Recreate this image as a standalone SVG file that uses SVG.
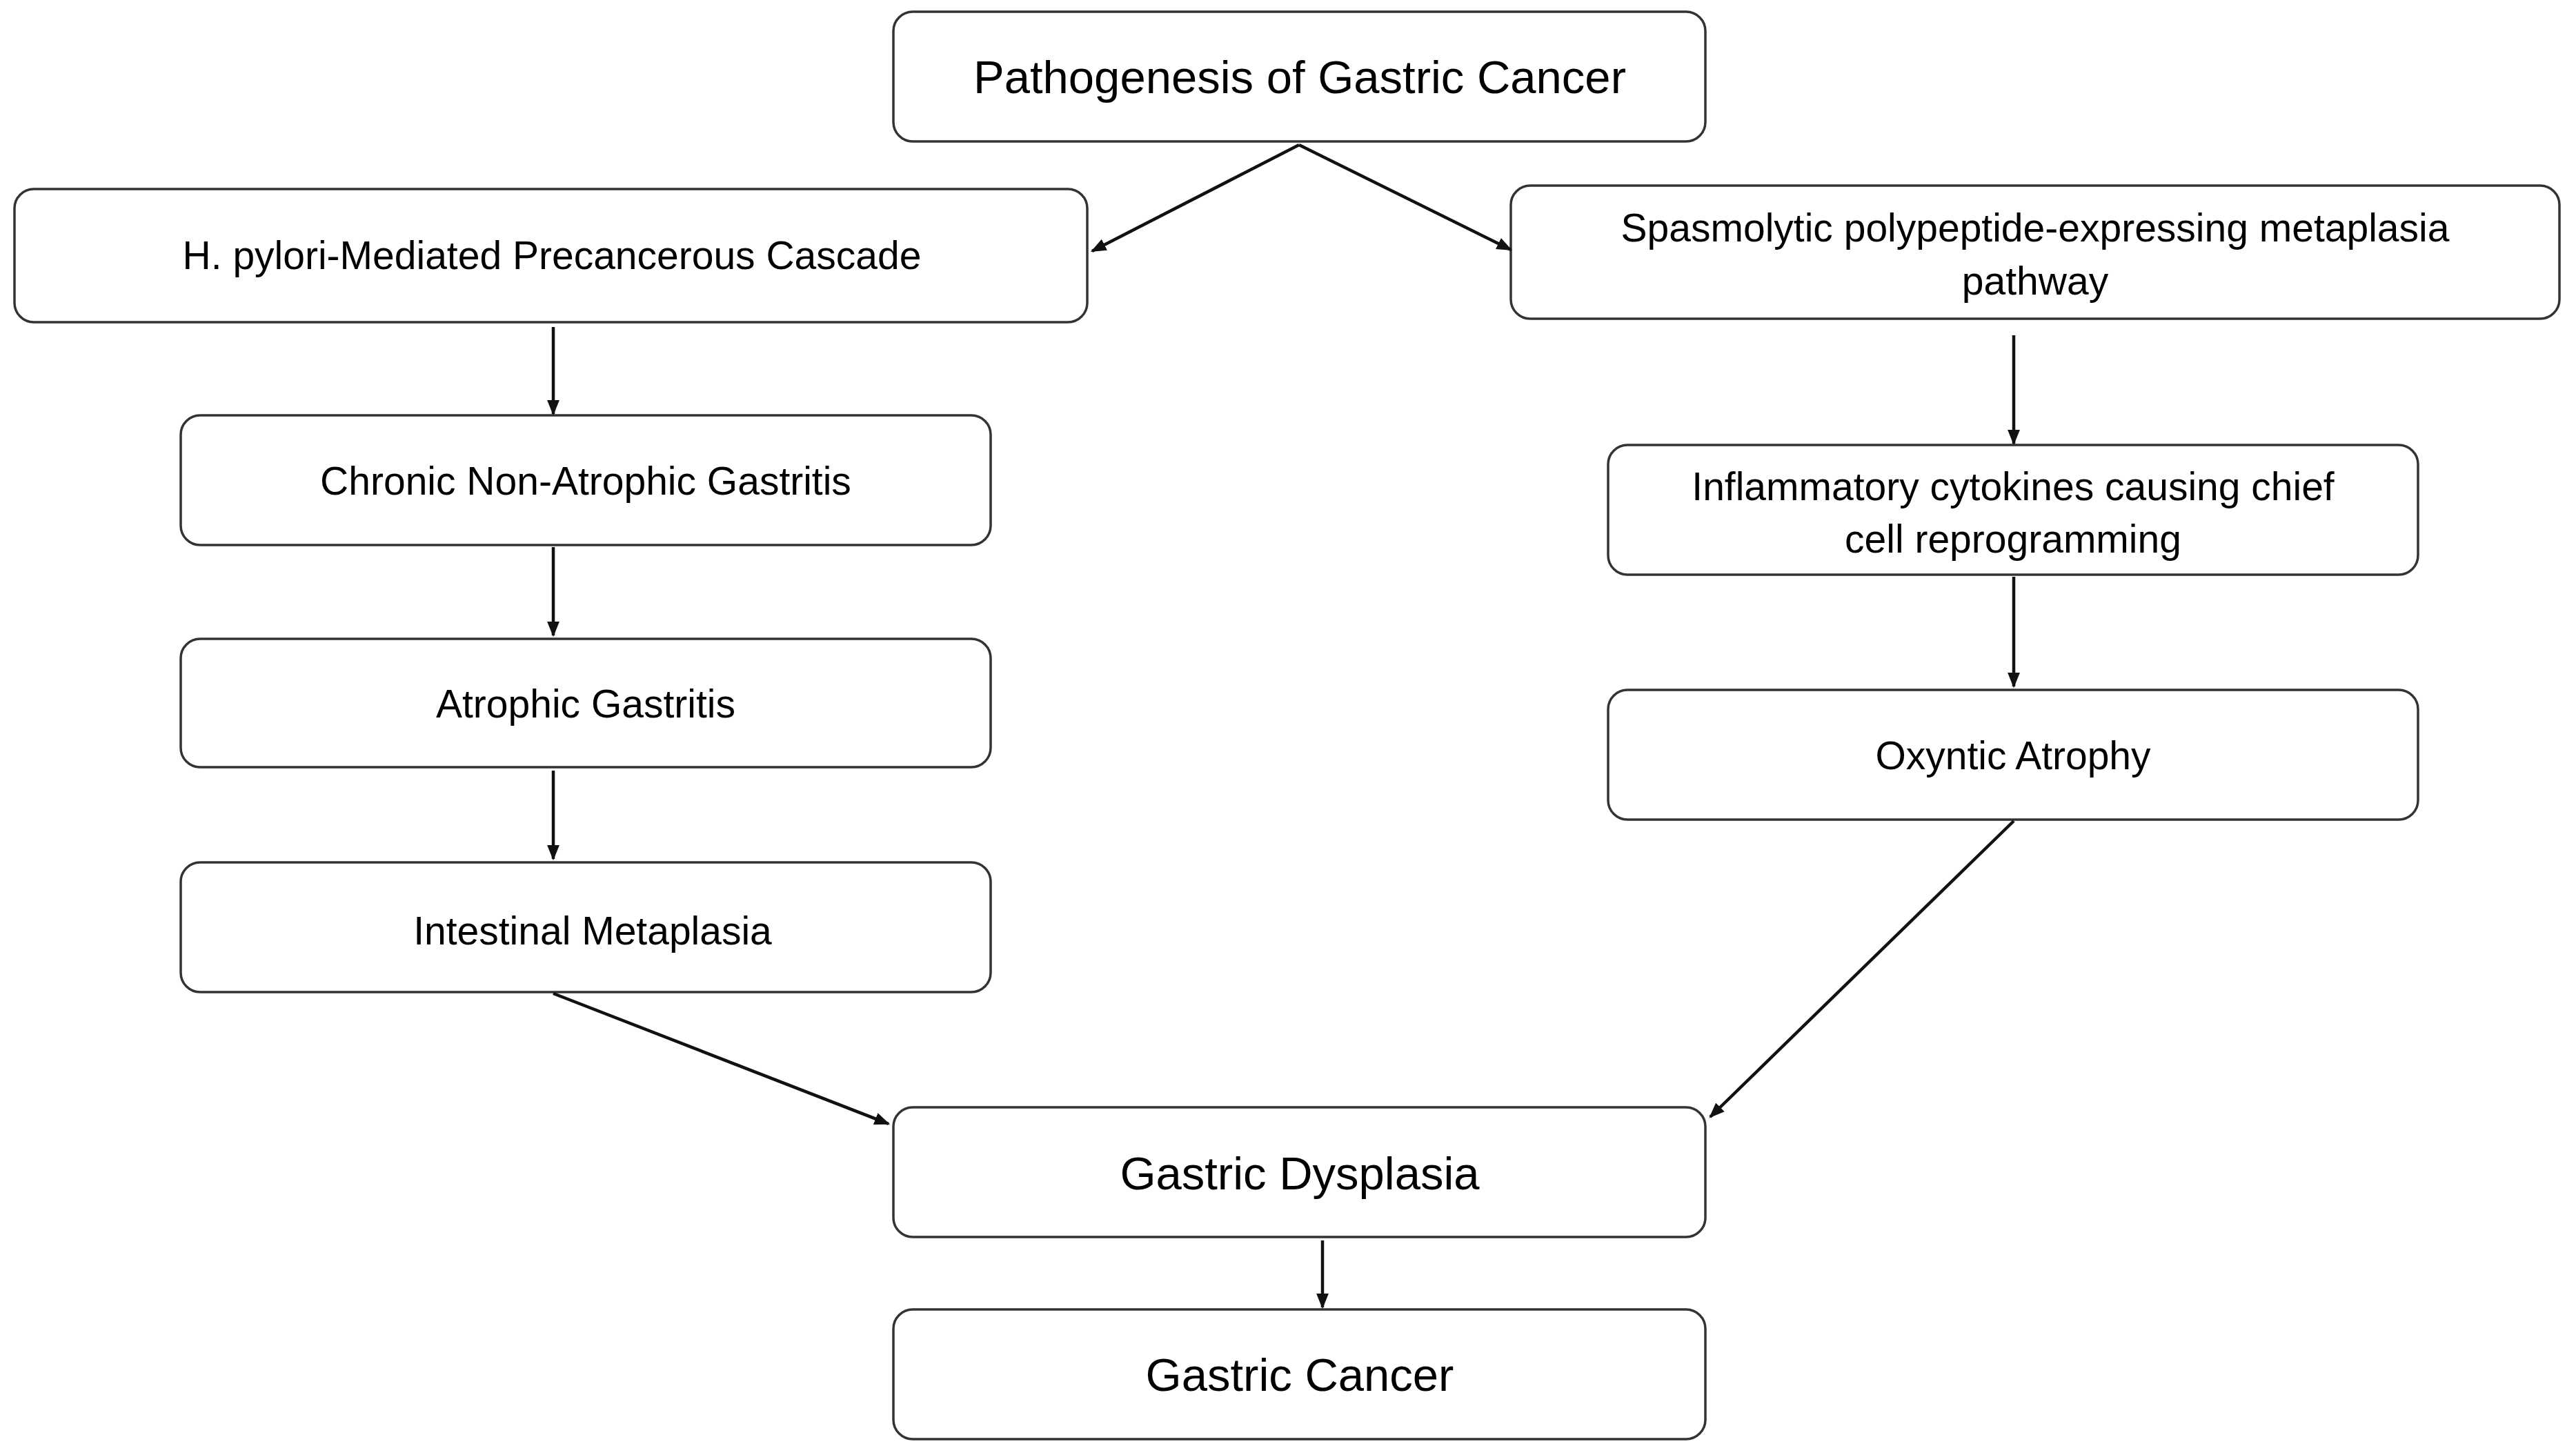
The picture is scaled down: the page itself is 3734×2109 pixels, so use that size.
<svg xmlns="http://www.w3.org/2000/svg" width="3734" height="2109" viewBox="0 0 3734 2109">
<style>
.b{fill:#fff;stroke:#333;stroke-width:3.5}
.t{font-family:"Liberation Sans",Arial,sans-serif;font-size:57px;text-anchor:middle;fill:#000}
.L{font-size:67px}
.c{stroke:#111;stroke-width:4.5;fill:none;marker-end:url(#a)}
</style>
<defs><marker id="a" viewBox="0 0 10 10" refX="9" refY="5" markerWidth="5" markerHeight="5" orient="auto" markerUnits="strokeWidth"><path d="M0,1L10,5L0,9z" fill="#111"/></marker></defs>
<rect width="3734" height="2109" fill="#fff"/>
<g id="n1"><rect class="b" x="1295" y="17" width="1177" height="188" rx="28"/><text class="t L" x="1884" y="135">Pathogenesis of Gastric Cancer</text></g>
<g id="n2"><rect class="b" x="21" y="274" width="1555" height="193" rx="28"/><text class="t" x="800" y="390">H. pylori-Mediated Precancerous Cascade</text></g>
<g id="n3"><rect class="b" x="2190" y="269" width="1520" height="193" rx="28"/><text class="t" x="2950" y="350">Spasmolytic polypeptide-expressing metaplasia</text><text class="t" x="2950" y="427">pathway</text></g>
<g id="n4"><rect class="b" x="262" y="602" width="1174" height="188" rx="28"/><text class="t" x="849" y="717">Chronic Non-Atrophic Gastritis</text></g>
<g id="n5"><rect class="b" x="262" y="926" width="1174" height="186" rx="28"/><text class="t" x="849" y="1040">Atrophic Gastritis</text></g>
<g id="n6"><rect class="b" x="262" y="1250" width="1174" height="188" rx="28"/><text class="t" x="859" y="1369">Intestinal Metaplasia</text></g>
<g id="n7"><rect class="b" x="2331" y="645" width="1174" height="188" rx="28"/><text class="t" x="2918" y="725">Inflammatory cytokines causing chief</text><text class="t" x="2918" y="801">cell reprogramming</text></g>
<g id="n8"><rect class="b" x="2331" y="1000" width="1174" height="188" rx="28"/><text class="t" x="2918" y="1115">Oxyntic Atrophy</text></g>
<g id="n9"><rect class="b" x="1295" y="1605" width="1177" height="188" rx="28"/><text class="t L" x="1884" y="1724">Gastric Dysplasia</text></g>
<g id="n10"><rect class="b" x="1295" y="1898" width="1177" height="188" rx="28"/><text class="t L" x="1884" y="2016">Gastric Cancer</text></g>
<g id="connectors">
<path class="c" d="M1883,210L1583,364"/>
<path class="c" d="M1883,210L2190,362"/>
<path class="c" d="M802,474L802,600"/>
<path class="c" d="M802,793L802,921"/>
<path class="c" d="M802,1117L802,1245"/>
<path class="c" d="M2919,486L2919,643"/>
<path class="c" d="M2919,836L2919,995"/>
<path class="c" d="M802,1440L1288,1629"/>
<path class="c" d="M2919,1190L2479,1619"/>
<path class="c" d="M1917,1798L1917,1895"/>
</g>
</svg>
